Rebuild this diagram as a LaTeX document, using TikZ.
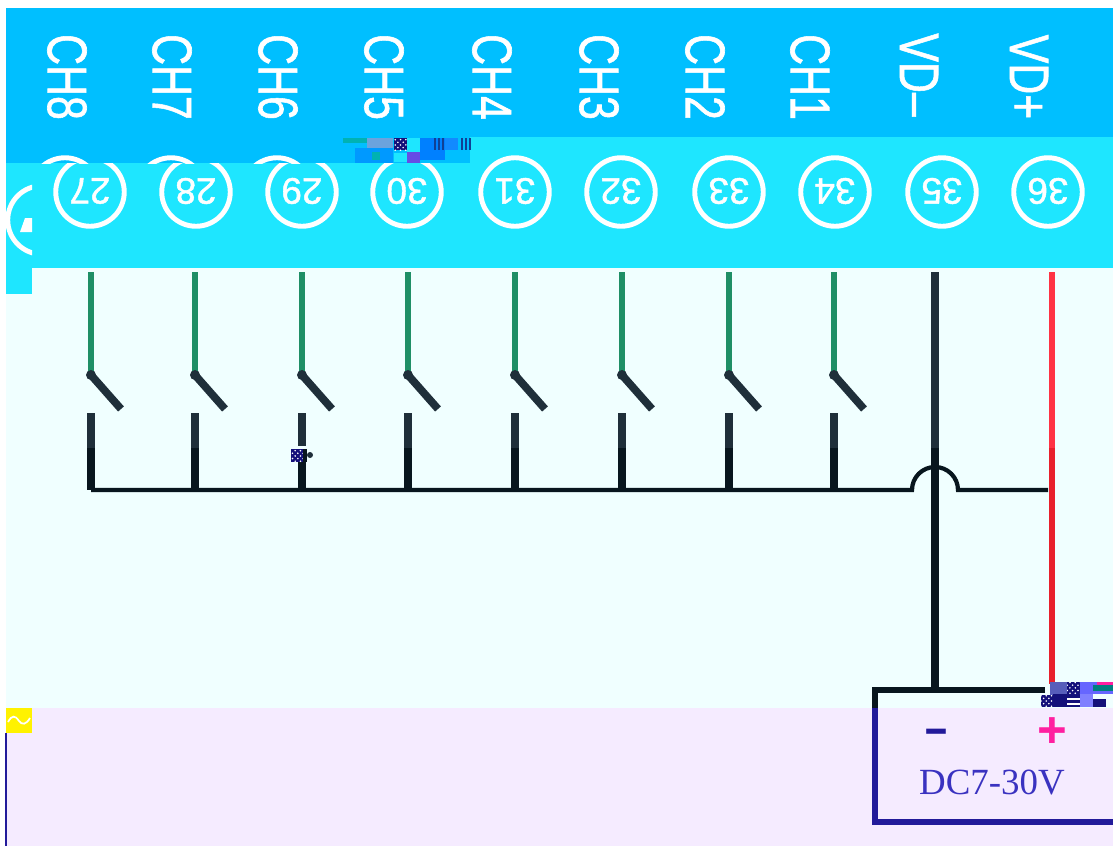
\documentclass[tikz,border=0pt]{standalone}
\usepackage{fontspec}
\setmainfont{Liberation Sans}
\newfontfamily\serifface{Liberation Serif}
\newfontfamily\pinface[FakeBold=1.2]{Liberation Sans}
\definecolor{topblue}{HTML}{00BFFF}
\definecolor{pincyan}{HTML}{1EE6FF}
\definecolor{wirepale}{HTML}{F0FFFF}
\definecolor{boxlilac}{HTML}{F5EBFF}
\definecolor{wiregreen}{HTML}{1F8F66}
\definecolor{wiredark}{HTML}{1F2F3A}
\definecolor{wireblack}{HTML}{08161E}
\definecolor{wirered}{HTML}{FF3344}
\definecolor{wirered2}{HTML}{E8202C}
\definecolor{boxblue}{HTML}{221A9A}
\definecolor{ratingblue}{HTML}{3A32C0}
\definecolor{plusmag}{HTML}{FF1FA0}
\definecolor{navyblock}{HTML}{14107A}
\usetikzlibrary{shapes.geometric,patterns}
\tikzset{
    pinring/.style={draw=white,line width=2.8pt,ellipse,minimum width=39pt,minimum height=39pt,inner sep=0pt},
    pinnum/.style={text=white,font=\pinface\fontsize{21}{22}\selectfont,rotate=180,inner sep=0pt},
    chlabel/.style={text=white,font=\pinface\fontsize{24.4}{26}\selectfont,rotate=-90,inner sep=0pt},
    greenwire/.style={line width=3.4pt,wiregreen},
    darkwire/.style={line width=4.4pt,wiredark},
    blackwire/.style={line width=4.4pt,wireblack},
    buswire/.style={line width=2.4pt,wireblack},
    checkblock/.style={fill=navyblock,postaction={pattern=crosshatch dots,pattern color=white}}
}
\begin{document}
\begin{tikzpicture}[x=0.02cm,y=-0.02cm]
    \useasboundingbox (0,0) rectangle (1113,846);
    % background bands
    \fill[white] (0,0) rectangle (1113,846);
    \fill[topblue] (6,8) rectangle (1113,137);
    \fill[pincyan] (6,137) rectangle (1113,268);
    \fill[pincyan] (6,268) rectangle (32,294);
    \fill[wirepale] (6,294) rectangle (32,708);
    \fill[wirepale] (32,268) rectangle (1113,708);
    \fill[boxlilac] (6,708) rectangle (1113,846);
    \fill[yellow] (6,708) rectangle (32,733);
    \draw[white,line width=1pt] (8,722) .. controls (12,715) and (15,715) .. (19,721) .. controls (22,725) and (26,725) .. (30,718);
    \draw[boxblue,line width=1.2pt] (6,733) -- (6,846);
    % pins and names
    \foreach \chname/\num/\lx/\cx/\wx in {CH8/27/67/90/91,CH7/28/172/196/195,CH6/29/278/302/302,CH5/30/384/407/408,CH4/31/492/515/515,CH3/32/599/621/622,CH2/33/705/729/729,CH1/34/810/835/834}{
        \node[chlabel] (name\num) at (\lx,77) {\scalebox{1}[1.3]{\chname}};
        \node[pinring] (ring\num) at (\cx,192) {};
        \node[pinnum] (pin\num) at (\cx,191) {\num};
        \coordinate (top\num) at (\wx,272);
        \coordinate (pivot\num) at (\wx,375);
        \coordinate (arm\num) at (\wx+30,409);
        \coordinate (contact\num) at (\wx,413);
        \coordinate (shade\num) at (\wx,448);
        \coordinate (bus\num) at (\wx,490);
        \draw[greenwire] (top\num) -- (pivot\num);
        \draw[darkwire] (pivot\num) -- (arm\num);
        \fill[wiredark] (pivot\num) circle (5);
        \draw[darkwire] (contact\num) -- (shade\num);
        \draw[blackwire] (shade\num) -- (bus\num);
    }
    \node[chlabel] (nameminus) at (919,75) {\scalebox{1}[1.3]{VD–}};
    \node[chlabel] (nameplus) at (1029,77) {\scalebox{1}[1.3]{VD+}};
    \node[pinring] (ring35) at (942,192) {};
    \node[pinnum] (pin35) at (942,191) {35};
    \node[pinring] (ring36) at (1048,192) {};
    \node[pinnum] (pin36) at (1048,191) {36};
    % shifted tops of the first rings
    \fill[topblue] (6,137) rectangle (345,163);
    \begin{scope}
        \clip (6,137) rectangle (345,163);
        \node[pinring] (ghost27) at (65,192) {};
        \node[pinring] (ghost28) at (171,192) {};
        \node[pinring] (ghost29) at (277,192) {};
    \end{scope}
    \begin{scope}
        \clip (6,137) rectangle (32,294);
        \node[pinring] (ghost26) at (42,220) {};
        \fill[white] (25,218) -- (32,218) -- (32,232) -- (20,232) -- cycle;
    \end{scope}
    % supply wires
    \coordinate (top35) at (935,272);
    \coordinate (shade35) at (935,448);
    \coordinate (top36) at (1052,272);
    \coordinate (shade36) at (1052,448);
    \coordinate (boxminus) at (935,690);
    \coordinate (boxplus) at (1052,684);
    \coordinate (hopleft) at (912,490);
    \coordinate (busend) at (1048,490);
    \draw[darkwire] (top35) -- (shade35);
    \draw[blackwire] (shade35) -- (boxminus);
    \draw[line width=3.4pt,wirered] (top36) -- (shade36);
    \draw[line width=3.4pt,wirered2] (shade36) -- (boxplus);
    \draw[buswire] (bus27) -- (hopleft) arc[start angle=180,end angle=360,radius=23] -- (busend);
    % supply box
    \coordinate (boxtl) at (875,690);
    \coordinate (boxmid) at (875,708);
    \coordinate (boxbl) at (875,822);
    \coordinate (boxbr) at (1113,822);
    \coordinate (boxtr) at (1045,690);
    \draw[line width=3.8pt,wireblack] (boxtr) -- (boxtl) -- (boxmid);
    \draw[line width=3.6pt,boxblue] (boxmid) -- (boxbl) -- (boxbr);
    \node[text=boxblue,font=\bfseries\fontsize{22.5}{24}\selectfont] (minus) at (936,737) {\scalebox{1}[1.3]{–}};
    \node[text=plusmag,font=\bfseries\fontsize{29}{30}\selectfont] (plus) at (1052,733) {+};
    \node[text=ratingblue,font=\serifface\fontsize{21}{24}\selectfont] (rating) at (992,782) {DC7-30V};
    % broken blocks of the scan
    \fill[topblue] (343,137) rectangle (470,163);
    \fill[teal!60!cyan] (343,138) rectangle (367,143);
    \fill[cyan!60!blue!60!white] (367,138) rectangle (393,148);
    \fill[blue!40!cyan] (355,148) rectangle (393,163);
    \fill[teal!60!cyan] (372,152) rectangle (380,160);
    \path[checkblock] (394,138) rectangle (407,150);
    \fill[pincyan] (407,138) rectangle (420,152);
    \fill[pincyan] (394,153) rectangle (407,162);
    \fill[blue!60!pink] (407,152) rectangle (420,163);
    \fill[blue!50!cyan] (420,138) rectangle (445,160);
    \foreach \sx in {434,438,442,461,465,469}{
        \fill[navyblock!80!cyan] (\sx,138) rectangle (\sx+1.5,150);
    }
    \fill[pincyan!60!blue] (445,138) rectangle (458,150);
    \fill[wirepale] (291,446) rectangle (316,462);
    \path[checkblock] (291,449) rectangle (305,462);
    \fill[wireblack] (303,462) rectangle (307,449);
    \fill[wiredark] (310,455) circle (3);
    \fill[blue!50!wiredark!70!white] (1050,682) rectangle (1067,695);
    \path[checkblock] (1067,682) rectangle (1080,695);
    \fill[blue!60!white] (1080,682) rectangle (1113,694);
    \fill[teal] (1093,685) rectangle (1113,691);
    \fill[plusmag] (1097,682) rectangle (1113,685);
    \path[checkblock] (1041,695) rectangle (1053,707);
    \fill[navyblock] (1053,694) rectangle (1067,707);
    \fill[navyblock] (1067,695) rectangle (1080,707);
    \fill[white] (1067,698) rectangle (1080,700);
    \fill[white] (1067,703) rectangle (1080,705);
    \fill[blue!50!white] (1080,694) rectangle (1093,707);
    \fill[navyblock] (1093,699) rectangle (1106,707);
\end{tikzpicture}
\end{document}
